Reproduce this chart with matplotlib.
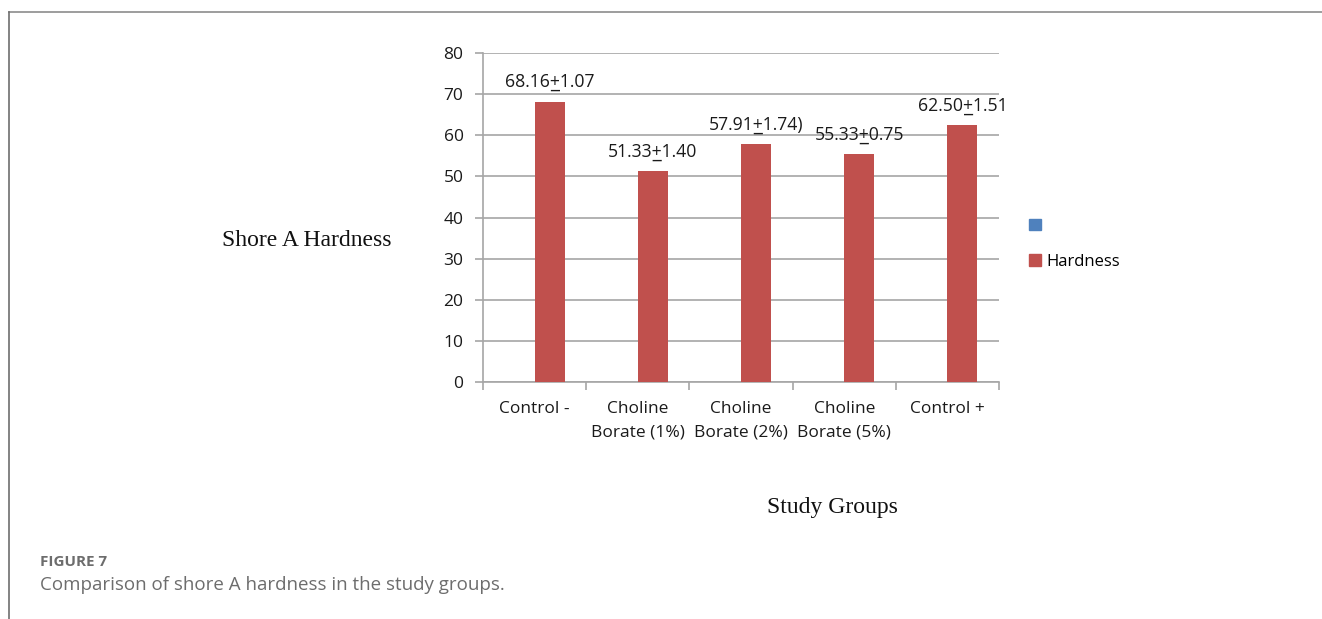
import numpy as np
import matplotlib.pyplot as plt
from matplotlib.patches import Patch
from matplotlib.lines import Line2D

# data
groups = ["Control -", "Choline\nBorate (1%)", "Choline\nBorate (2%)",
          "Choline\nBorate (5%)", "Control +"]
hardness = [68.16, 51.33, 57.91, 55.33, 62.50]
sd = [1.07, 1.40, 1.74, 0.75, 1.51]
value_labels = ["68.16+\u03321.07", "51.33+\u03321.40", "57.91+\u03321.74)",
                "55.33+\u03320.75", "62.50+\u03321.51"]
yticks = [0, 10, 20, 30, 40, 50, 60, 70, 80]

red = "#c0504d"
blue = "#4f81bd"
grid_c = "#a6a6a6"
sans = ["Open Sans", "DejaVu Sans"]
serif = "Liberation Serif"

fig = plt.figure(figsize=(13.22, 6.19), dpi=100)
ax = fig.add_axes([483 / 1322, 1 - 382 / 619, 516 / 1322, 329 / 619])

x = np.arange(len(groups))
bw = 0.29
# empty first series sits on the left of each cluster, Hardness on the right
ax.bar(x + bw / 2, hardness, width=bw, color=red, zorder=3)

for xi, h, lab in zip(x, hardness, value_labels):
    ax.text(xi + bw / 2, h + 2.5, lab, ha="center", va="bottom",
            fontsize=12.7, family=sans, color="#1a1a1a")

ax.set_xlim(-0.5, len(groups) - 0.5)
ax.set_ylim(0, 80)
ax.set_yticks(yticks)
ax.yaxis.grid(True, color=grid_c, lw=1.2, zorder=0)
ax.set_xticks(x)
ax.set_xticklabels(groups, fontsize=12.5, family=sans, color="#1a1a1a",
                   linespacing=1.55)
ax.set_xticks(np.arange(len(groups) + 1) - 0.5, minor=True)
ax.tick_params(axis="x", which="major", length=0, pad=14)
ax.tick_params(axis="x", which="minor", length=6, color=grid_c, width=1.2)
ax.tick_params(axis="y", length=6, color=grid_c, width=1.2, labelsize=12.5,
               labelcolor="#1a1a1a", pad=8)
for t in ax.get_yticklabels():
    t.set_family(sans)
for s in ["top", "right"]:
    ax.spines[s].set_visible(False)
for s in ["left", "bottom"]:
    ax.spines[s].set_color(grid_c)
    ax.spines[s].set_linewidth(1.2)

handles = [Patch(color=blue, label=" "), Patch(color=red, label="Hardness")]
fig.legend(handles=handles, loc="center left", bbox_to_anchor=(1014 / 1322, 1 - 244 / 619),
           frameon=False, handlelength=0.7, handleheight=0.7, handletextpad=0.35,
           labelspacing=1.15, prop={"family": sans, "size": 12})

fig.text(307 / 1322, 1 - 240 / 619, "Shore A Hardness", ha="center", va="center",
         fontsize=17, family=serif, color="#111111")
fig.text(832 / 1322, 1 - 508 / 619, "Study Groups", ha="center", va="center",
         fontsize=17, family=serif, color="#111111")

# page frame and caption
fig.add_artist(Line2D([9 / 1322, 1], [1 - 12 / 619, 1 - 12 / 619], color="#8c8c8c", lw=1.2))
fig.add_artist(Line2D([9 / 1322, 9 / 1322], [0, 1 - 12 / 619], color="#6e6e6e", lw=1.2))
fig.text(40 / 1322, 1 - 562 / 619, "FIGURE 7", ha="left", va="center",
         fontsize=11, family=sans, weight="bold", color="#6d6d6d")
fig.text(40 / 1322, 1 - 585 / 619, "Comparison of shore A hardness in the study groups.",
         ha="left", va="center", fontsize=13.5, family=sans, color="#6d6d6d")

fig.savefig("out.png", dpi=100)
